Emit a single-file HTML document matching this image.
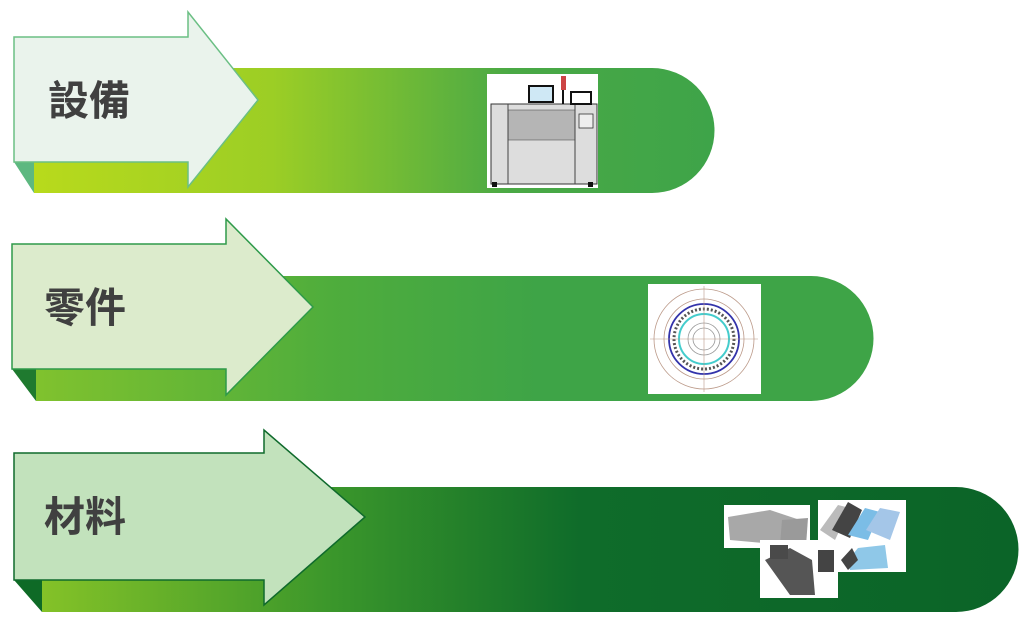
<!DOCTYPE html>
<html><head><meta charset="utf-8"><style>
html,body{margin:0;padding:0;background:#fff;width:1024px;height:624px;overflow:hidden}
text{font-family:"Liberation Sans","Noto Sans CJK TC",sans-serif;font-weight:bold;fill:#404040}
</style></head><body>
<svg width="1024" height="624" viewBox="0 0 1024 624" xmlns="http://www.w3.org/2000/svg">
<defs>
<linearGradient id="g1" x1="0" x2="1" y1="0" y2="0"><stop offset="0" stop-color="#b8da1c"/><stop offset="0.35" stop-color="#9cce25"/><stop offset="0.7" stop-color="#4aa945"/><stop offset="1" stop-color="#3ea449"/></linearGradient>
<linearGradient id="g2" x1="0" x2="1" y1="0" y2="0"><stop offset="0" stop-color="#80c22e"/><stop offset="0.35" stop-color="#4fad3c"/><stop offset="0.6" stop-color="#3ea447"/><stop offset="1" stop-color="#3ea447"/></linearGradient>
<linearGradient id="g3" x1="0" x2="1" y1="0" y2="0"><stop offset="0" stop-color="#84c228"/><stop offset="0.3" stop-color="#3a962b"/><stop offset="0.55" stop-color="#0f6c2a"/><stop offset="1" stop-color="#0b6428"/></linearGradient>
</defs>
<!-- Row 1 -->
<path d="M34 68 H652 A62 62 0 0 1 652 193 H34 Z" fill="url(#g1)"/>
<path d="M14 162 L34 193 L34 162 Z" fill="#5db880"/>
<path d="M14 37 H188 V12 L258 100 L188 187 V162 H14 Z" fill="#eaf3ec" stroke="#6bbf84" stroke-width="1.5"/>
<text x="48" y="115" font-size="41">設備</text>
<g transform="translate(487,74)">
<rect width="111" height="114" fill="#fff"/>
<rect x="4" y="30" width="106" height="80" fill="#ddd" stroke="#333" stroke-width="1"/>
<rect x="21" y="36" width="67" height="30" fill="#b5b5b5" stroke="#555" stroke-width="0.6"/>
<line x1="21" y1="30" x2="21" y2="110" stroke="#444"/><line x1="88" y1="30" x2="88" y2="110" stroke="#444"/>
<rect x="42" y="12" width="24" height="16" fill="#cfe8f5" stroke="#111" stroke-width="2"/>
<rect x="84" y="18" width="20" height="12" fill="#fff" stroke="#111" stroke-width="2"/>
<rect x="74" y="2" width="5" height="14" fill="#c44"/><line x1="76" y1="16" x2="76" y2="30" stroke="#111" stroke-width="2"/>
<rect x="92" y="40" width="14" height="14" fill="#eee" stroke="#333" stroke-width="0.8"/>
<rect x="5" y="108" width="5" height="5" fill="#111"/><rect x="101" y="108" width="5" height="5" fill="#111"/>
</g>
<!-- Row 2 -->
<path d="M36 276 H811 A62 62 0 0 1 811 401 H36 Z" fill="url(#g2)"/>
<path d="M12 369 L36 401 L36 369 Z" fill="#1f7a2f"/>
<path d="M12 244 H226 V219 L313 307 L226 395 V369 H12 Z" fill="#dcebcc" stroke="#2e9a4a" stroke-width="1.5"/>
<text x="44" y="322" font-size="41">零件</text>
<g transform="translate(648,284)">
<rect width="113" height="110" fill="#fff"/>
<circle cx="56" cy="55" r="50" fill="none" stroke="#b98" stroke-width="0.8"/>
<circle cx="56" cy="55" r="40" fill="none" stroke="#b98" stroke-width="0.8"/>
<circle cx="56" cy="55" r="35" fill="none" stroke="#33a" stroke-width="1.8"/>
<circle cx="56" cy="55" r="30" fill="none" stroke="#555" stroke-width="3" stroke-dasharray="2 2"/>
<circle cx="56" cy="55" r="25" fill="none" stroke="#4cc" stroke-width="2"/>
<circle cx="56" cy="55" r="16" fill="none" stroke="#999" stroke-width="0.8"/>
<circle cx="56" cy="55" r="11" fill="none" stroke="#999" stroke-width="0.8"/>
<line x1="2" y1="55" x2="110" y2="55" stroke="#b98" stroke-width="0.6"/>
<line x1="56" y1="2" x2="56" y2="108" stroke="#b98" stroke-width="0.6"/>
</g>
<!-- Row 3 -->
<path d="M42 487 H956 A62 62 0 0 1 956 612 H42 Z" fill="url(#g3)"/>
<path d="M14 580 L42 612 L42 580 Z" fill="#0e6a26"/>
<path d="M14 453 H264 V430 L365 517 L264 605 V580 H14 Z" fill="#c2e2bc" stroke="#0f6a2c" stroke-width="1.5"/>
<text x="44" y="531" font-size="41">材料</text>
<g>
<rect x="724" y="505" width="86" height="43" fill="#fff"/>
<path d="M728 517 L770 510 L800 520 L785 545 L730 540 Z" fill="#a8a8a8"/>
<path d="M782 520 L808 518 L806 546 L780 545 Z" fill="#9a9a9a"/>
<rect x="818" y="500" width="88" height="72" fill="#fff"/>
<path d="M820 530 L838 505 L850 508 L835 540 Z" fill="#bbb"/>
<path d="M832 530 L848 502 L862 510 L850 538 Z" fill="#444"/>
<path d="M848 535 L865 508 L880 512 L868 540 Z" fill="#7bbde6"/>
<path d="M866 530 L880 508 L900 512 L890 540 Z" fill="#a4c6e8"/>
<path d="M848 560 L858 548 L885 545 L888 568 L850 570 Z" fill="#8fc8e8"/>
<path d="M841 560 L852 548 L858 560 L848 570 Z" fill="#444"/>
<rect x="760" y="540" width="78" height="58" fill="#fff"/>
<path d="M765 560 L790 548 L812 560 L815 595 L790 595 Z" fill="#555"/>
<rect x="818" y="550" width="16" height="22" fill="#444"/>
<rect x="770" y="545" width="18" height="14" fill="#4a4a4a"/>
</g>
</svg>
</body></html>
